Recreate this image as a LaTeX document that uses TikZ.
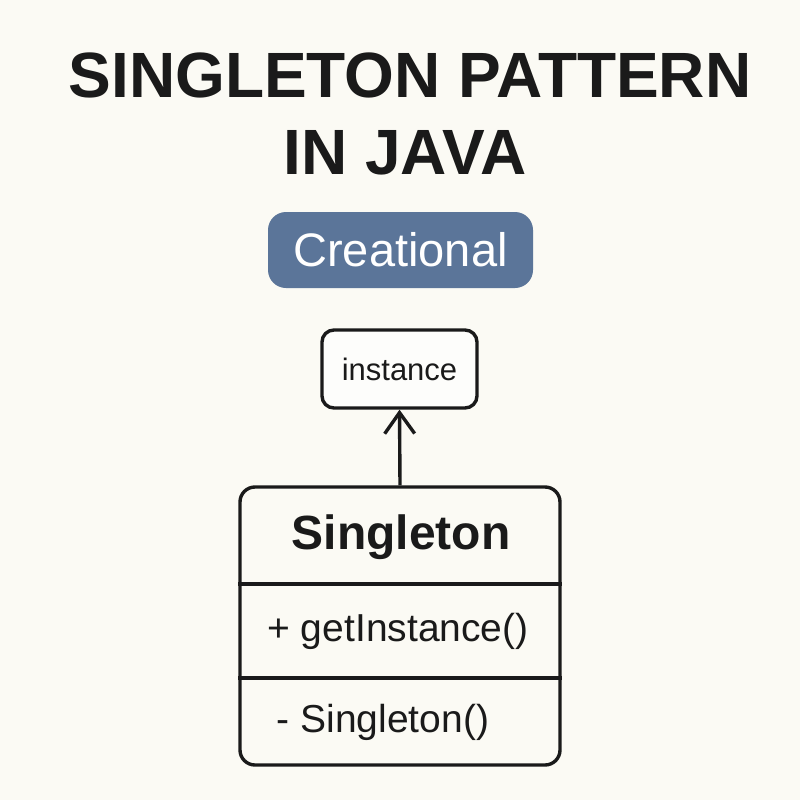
\documentclass[tikz,border=0pt]{standalone}
\usepackage{fontspec}
\setmainfont{Liberation Sans}
\usetikzlibrary{arrows.meta}
\definecolor{bg}{HTML}{FBFAF4}
\definecolor{ink}{HTML}{1A1A1A}
\definecolor{badge}{HTML}{5B7599}
\tikzset{
  titletext/.style={font=\fontsize{64}{70}\selectfont\bfseries, text=ink, inner sep=0pt},
  boxline/.style={draw=ink, line width=3.4pt},
  membertext/.style={font=\fontsize{39}{44}\selectfont, text=ink, inner sep=0pt},
}
\begin{document}
\begin{tikzpicture}[x=1pt,y=-1pt]
\fill[bg] (0,0) rectangle (800,800);
\useasboundingbox (0,0) rectangle (800,800);
\node[titletext] (title1) at (410,75) {SINGLETON PATTERN};
\node[titletext] (title2) at (405,153) {IN JAVA};
\node[fill=badge, rounded corners=18pt, minimum width=265pt, minimum height=76pt, inner sep=0pt,
      text=white, font=\fontsize{47}{52}\selectfont] (badge) at (400.5,250) {Creational};
\node[boxline, fill=white!60!bg, rounded corners=12pt, minimum width=155pt, minimum height=78pt, inner sep=0pt,
      font=\fontsize{31}{34}\selectfont, text=ink] (inst) at (399.5,369) {instance};
\node[boxline, rounded corners=15pt, minimum width=320pt, minimum height=278pt, inner sep=0pt] (cls) at (400,626) {};
\coordinate (d1) at (0,584);
\coordinate (d2) at (0,678);
\draw[boxline] (cls.west |- d1) -- (cls.east |- d1);
\draw[boxline] (cls.west |- d2) -- (cls.east |- d2);
\node[font=\fontsize{48}{52}\selectfont\bfseries, text=ink, inner sep=0pt] (cname) at (401,537) {Singleton};
\node[membertext] (m1) at (398,631) {+ getInstance()};
\node[membertext] (m2) at (383,722) {- Singleton()};
\draw[boxline, -{Straight Barb[length=21pt,width=30pt,line width=3.4pt]}] (cls.north) -- (inst.south);
\end{tikzpicture}
\end{document}
